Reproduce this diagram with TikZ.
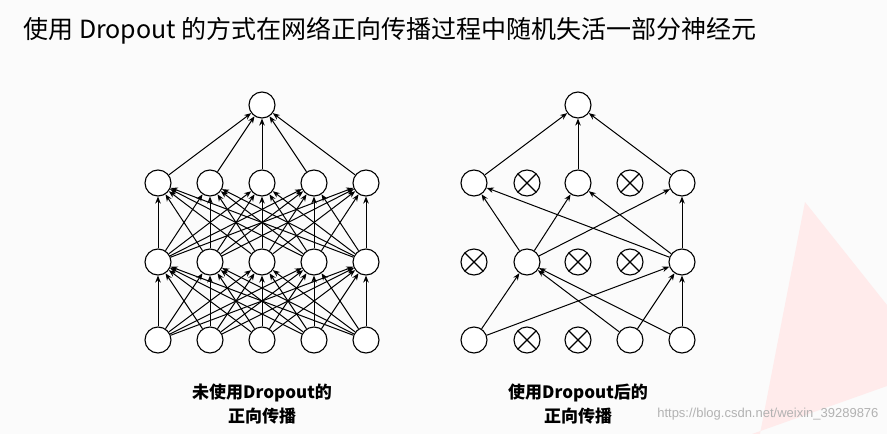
\documentclass[tikz,border=0pt]{standalone}
\usepackage{fontspec}
\setmainfont{Noto Sans CJK SC}
\newfontfamily\wmfont{Liberation Sans}
\usetikzlibrary{arrows.meta}
\begin{document}
\begin{tikzpicture}[x=1pt,y=-1pt,
  neuron/.style={circle,draw,line width=1.1pt,minimum size=26pt,inner sep=0pt,fill=white},
  dropped/.style={neuron,path picture={\draw[line width=1.1pt] (path picture bounding box.north west)--(path picture bounding box.south east) (path picture bounding box.north east)--(path picture bounding box.south west);}},
  conn/.style={-{Stealth[length=7pt,width=5.5pt]},line width=1pt}]
\fill[white!97!gray] (0,0) rectangle (887,434);
\useasboundingbox (0,0) rectangle (887,434);
\fill[red!8] (805,202) -- (887,305) -- (887,386) -- (752,434) -- (760,434) .. controls (780,330) .. (805,202);
\node[anchor=west,font=\fontsize{25}{28}\selectfont] (title) at (20,31) {使用 Dropout 的方式在网络正向传播过程中随机失活一部分神经元};
% left network
\foreach \i/\x in {1/158,2/210,3/262,4/314,5/366}{
  \node[neuron] (a\i) at (\x,340) {};
  \node[neuron] (b\i) at (\x,262) {};
  \node[neuron] (c\i) at (\x,183) {};
}
\node[neuron] (ao) at (262,105) {};
\foreach \i in {1,...,5}{\foreach \j in {1,...,5}{
  \draw[conn] (a\i) -- (b\j); \draw[conn] (b\i) -- (c\j);}
  \draw[conn] (c\i) -- (ao);}
% right network
\node[neuron] (d1) at (474,340) {};
\node[dropped] (d2) at (527,340) {};
\node[dropped] (d3) at (578,340) {};
\node[neuron] (d4) at (630,340) {};
\node[neuron] (d5) at (682,340) {};
\node[dropped] (e1) at (474,262) {};
\node[neuron] (e2) at (527,262) {};
\node[dropped] (e3) at (578,262) {};
\node[dropped] (e4) at (630,262) {};
\node[neuron] (e5) at (682,262) {};
\node[neuron] (f1) at (474,183) {};
\node[dropped] (f2) at (527,183) {};
\node[neuron] (f3) at (578,183) {};
\node[dropped] (f4) at (630,183) {};
\node[neuron] (f5) at (682,183) {};
\node[neuron] (fo) at (578,105) {};
\foreach \i in {1,4,5}{\foreach \j in {2,5}{\draw[conn] (d\i) -- (e\j);}}
\foreach \i in {2,5}{\foreach \j in {1,3,5}{\draw[conn] (e\i) -- (f\j);}}
\foreach \i in {1,3,5}{\draw[conn] (f\i) -- (fo);}
\node[font=\bfseries\fontsize{17}{24}\selectfont,align=center] (l1) at (262,404) {未使用Dropout的\\正向传播};
\node[font=\bfseries\fontsize{17}{24}\selectfont,align=center] (l2) at (578,404) {使用Dropout后的\\正向传播};
\node[anchor=east,text=gray!60,font=\fontsize{13}{15}\selectfont\wmfont] (wm) at (882,414) {https://blog.csdn.net/weixin\_39289876};
\end{tikzpicture}
\end{document}
